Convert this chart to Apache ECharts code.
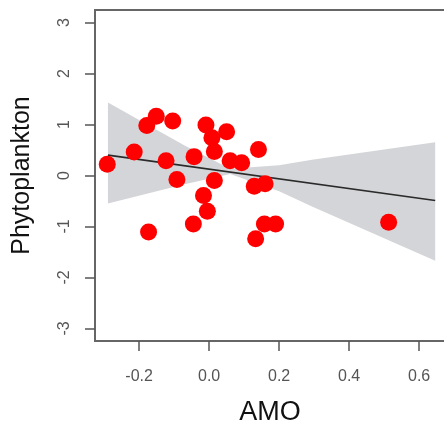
<!DOCTYPE html>
<html>
<head>
<meta charset="utf-8">
<script src="https://cdn.jsdelivr.net/npm/echarts@6/dist/echarts.min.js"></script>
<style>
  html, body { margin: 0; padding: 0; background: #fff; }
  #chart { width: 444px; height: 425px; }
</style>
</head>
<body>
<div id="chart"></div>
<script>
// Observations: AMO index vs phytoplankton anomaly
const amo = [-0.291, -0.214, -0.178, -0.151, -0.104, -0.123, -0.092, -0.173, -0.043, -0.009,
             0.008, 0.015, 0.05, 0.06, 0.093, 0.141, 0.015, -0.016, -0.005, -0.045,
             0.129, 0.16, 0.158, 0.19, 0.133, 0.513];
const phyto = [0.22, 0.46, 0.98, 1.16, 1.07, 0.29, -0.08, -1.11, 0.37, 0.99,
               0.74, 0.47, 0.86, 0.29, 0.25, 0.51, -0.10, -0.39, -0.70, -0.95,
               -0.21, -0.16, -0.95, -0.95, -1.24, -0.915];

// Fitted regression line end points
const fitX = [-0.289, 0.646];
const fitY = [0.40, -0.49];

// Confidence band outline
const bandX = [-0.289, -0.07, 0.06, 0.2, 0.294, 0.646];
const bandUpper = [1.43, 0.59, 0.13, 0.20, 0.31, 0.65];
const bandLower = [-0.55, -0.17, 0.03, -0.31, -0.61, -1.67];

// Axis ticks
const xTicks = [-0.2, 0.0, 0.2, 0.4, 0.6];
const yTicks = [-3, -2, -1, 0, 1, 2, 3];

const font = "'Liberation Sans', Arial, sans-serif";
const chart = echarts.init(document.getElementById('chart'));

chart.setOption({
  animation: false,
  backgroundColor: '#ffffff',
  grid: {
    left: 95, top: 10, width: 350, height: 331,
    outerBoundsMode: 'none',
    containLabel: false,
    show: true, borderColor: '#666', borderWidth: 2, backgroundColor: 'transparent'
  },
  xAxis: {
    type: 'value',
    position: 'bottom',
    min: -0.326, max: 0.674,
    name: 'AMO',
    nameLocation: 'middle',
    nameGap: 58,
    nameTextStyle: { fontFamily: font, fontSize: 27, color: '#111' },
    axisLine: { show: false, onZero: false },
    splitLine: { show: false },
    axisTick: { show: true, length: 10, customValues: xTicks, lineStyle: { color: '#555', width: 1.5 } },
    axisLabel: {
      customValues: xTicks, margin: 28,
      fontFamily: font, fontSize: 16, color: '#555',
      formatter: v => v.toFixed(1)
    }
  },
  yAxis: {
    type: 'value',
    position: 'left',
    min: -3.245, max: 3.245,
    name: 'Phytoplankton',
    nameLocation: 'middle',
    nameGap: 60,
    nameTextStyle: { fontFamily: font, fontSize: 25, color: '#111' },
    axisLine: { show: false, onZero: false },
    splitLine: { show: false },
    axisTick: { show: true, length: 10, customValues: yTicks, lineStyle: { color: '#555', width: 1.5 } },
    axisLabel: {
      customValues: yTicks, rotate: 90, margin: 22,
      fontFamily: font, fontSize: 16, color: '#555'
    }
  },
  series: [
    {
      type: 'custom',
      z: 1,
      clip: true,
      data: [0],
      renderItem: function (params, api) {
        const pts = [];
        for (let i = 0; i < bandX.length; i++) pts.push(api.coord([bandX[i], bandUpper[i]]));
        for (let i = bandX.length - 1; i >= 0; i--) pts.push(api.coord([bandX[i], bandLower[i]]));
        return {
          type: 'polygon',
          shape: { points: pts },
          style: { fill: '#d4d5d8', stroke: null }
        };
      }
    },
    {
      type: 'line',
      z: 2,
      data: fitX.map((x, i) => [x, fitY[i]]),
      symbol: 'none',
      lineStyle: { color: '#2a2a2a', width: 1.6 }
    },
    {
      type: 'scatter',
      z: 3,
      data: amo.map((x, i) => [x, phyto[i]]),
      symbol: 'circle',
      symbolSize: 17,
      itemStyle: { color: '#ff0000', opacity: 1 }
    }
  ]
});
</script>
</body>
</html>
